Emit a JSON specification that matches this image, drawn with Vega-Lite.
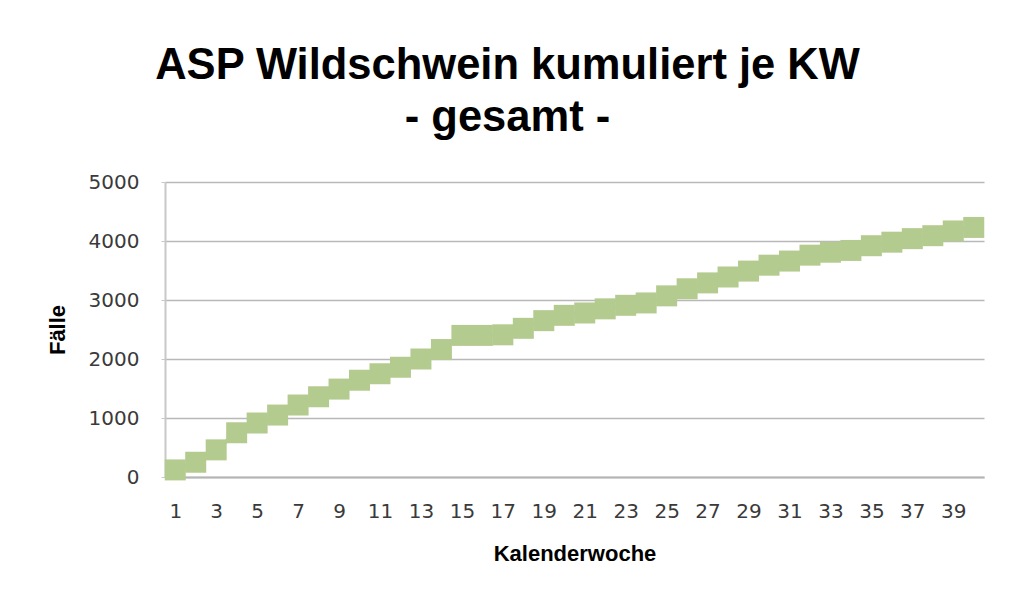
{
  "$schema": "https://vega.github.io/schema/vega-lite/v6.json",
  "width": 819,
  "height": 295,
  "autosize": "none",
  "padding": {"left": 165, "top": 182, "right": 31, "bottom": 127},
  "background": "white",
  "title": {
    "text": ["ASP Wildschwein kumuliert je KW", "- gesamt -"],
    "font": "Liberation Sans",
    "fontSize": 43.5,
    "fontWeight": "bold",
    "color": "#000000",
    "lineHeight": 52,
    "anchor": "middle",
    "frame": "group",
    "dx": -67,
    "offset": 32
  },
  "data": {
    "values": [
      {"KW": 1, "Faelle": 120}, {"KW": 2, "Faelle": 250}, {"KW": 3, "Faelle": 460}, {"KW": 4, "Faelle": 750},
      {"KW": 5, "Faelle": 915}, {"KW": 6, "Faelle": 1050}, {"KW": 7, "Faelle": 1220}, {"KW": 8, "Faelle": 1360},
      {"KW": 9, "Faelle": 1490}, {"KW": 10, "Faelle": 1640}, {"KW": 11, "Faelle": 1750}, {"KW": 12, "Faelle": 1860},
      {"KW": 13, "Faelle": 2000}, {"KW": 14, "Faelle": 2160}, {"KW": 15, "Faelle": 2400}, {"KW": 16, "Faelle": 2400},
      {"KW": 17, "Faelle": 2410}, {"KW": 18, "Faelle": 2520}, {"KW": 19, "Faelle": 2650}, {"KW": 20, "Faelle": 2740},
      {"KW": 21, "Faelle": 2780}, {"KW": 22, "Faelle": 2850}, {"KW": 23, "Faelle": 2910}, {"KW": 24, "Faelle": 2950},
      {"KW": 25, "Faelle": 3070}, {"KW": 26, "Faelle": 3190}, {"KW": 27, "Faelle": 3290}, {"KW": 28, "Faelle": 3390},
      {"KW": 29, "Faelle": 3490}, {"KW": 30, "Faelle": 3590}, {"KW": 31, "Faelle": 3660}, {"KW": 32, "Faelle": 3760},
      {"KW": 33, "Faelle": 3810}, {"KW": 34, "Faelle": 3840}, {"KW": 35, "Faelle": 3920}, {"KW": 36, "Faelle": 3980},
      {"KW": 37, "Faelle": 4040}, {"KW": 38, "Faelle": 4090}, {"KW": 39, "Faelle": 4170}, {"KW": 40, "Faelle": 4230}
    ]
  },
  "encoding": {
    "x": {
      "field": "KW",
      "type": "ordinal",
      "scale": {"type": "point", "padding": 0.5},
      "axis": {
        "title": "Kalenderwoche",
        "values": [1,3,5,7,9,11,13,15,17,19,21,23,25,27,29,31,33,35,37,39],
        "labelAngle": 0,
        "labelFont": "DejaVu Sans",
        "labelFontSize": 20,
        "labelColor": "#3a3a3a",
        "labelPadding": 24,
        "ticks": false,
        "domainColor": "#b5b5b5",
        "domainWidth": 2,
        "grid": false,
        "titleFont": "Liberation Sans",
        "titleFontSize": 22,
        "titleFontWeight": "bold",
        "titleColor": "#000000",
        "titlePadding": 22
      }
    },
    "y": {
      "field": "Faelle",
      "type": "quantitative",
      "scale": {"domain": [0, 5000], "nice": false},
      "axis": {
        "title": "Fälle",
        "values": [0, 1000, 2000, 3000, 4000, 5000],
        "format": "d",
        "labelFont": "DejaVu Sans",
        "labelFontSize": 20,
        "labelColor": "#3a3a3a",
        "labelPadding": 22,
        "tickSize": 4,
        "tickColor": "#c8c8c8",
        "domainColor": "#c8c8c8",
        "domainWidth": 2,
        "gridColor": "#b8b8b8",
        "gridWidth": 1.5,
        "titleFont": "Liberation Sans",
        "titleFontSize": 22,
        "titleFontWeight": "bold",
        "titleColor": "#000000",
        "titlePadding": 19
      }
    }
  },
  "layer": [
    {
      "mark": {"type": "line", "color": "#b4cb8f", "strokeWidth": 4}
    },
    {
      "mark": {"type": "point", "shape": "square", "filled": true, "size": 441, "color": "#b4cb8f", "opacity": 1}
    }
  ],
  "config": {
    "view": {"stroke": null}
  }
}
